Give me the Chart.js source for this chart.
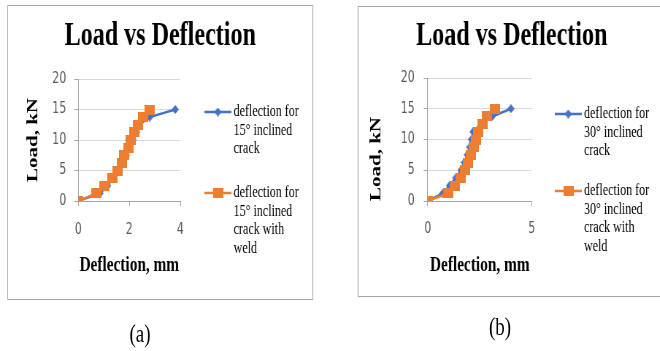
<!DOCTYPE html>
<html lang="en">
<head>
<meta charset="UTF-8" />
<title>Load vs Deflection</title>
<style>
  html, body { margin: 0; padding: 0; background: #fff; overflow: hidden; }
  /* the whole figure is horizontally condensed, like the scanned original */
  #page {
    position: absolute; left: 0; top: 0; width: 904px; height: 351px;
    transform: scaleX(0.73); transform-origin: 0 0;
  }
  .panel { position: absolute; border: 1px solid #a6a6a6; background: #fff; }
  .panel canvas { display: block; }
  .caption {
    position: absolute; font-family: "Liberation Serif", serif; font-size: 26px;
    color: #000; transform: translate(-50%, -50%);
  }
</style>
</head>
<body>
<div id="page">
  <div class="panel" style="left:9.6px; top:5px; width:417px; height:293px;">
    <canvas id="chartA" width="417" height="293"></canvas>
  </div>
  <div class="panel" style="left:490.4px; top:6px; width:420px; height:289px;">
    <canvas id="chartB" width="420" height="289"></canvas>
  </div>
  <div class="caption" style="left:191.8px; top:334px;">(a)</div>
  <div class="caption" style="left:685px; top:327px;">(b)</div>
</div>

<script src="https://cdn.jsdelivr.net/npm/chart.js"></script>
<script>
// load steps, kN (same for every series)
const loads = [0, 1.25, 2.5, 3.75, 5, 6.25, 7.5, 8.75, 10, 11.25, 12.5, 13.75, 15];

// deflection, mm
const defl15 = [0, 0.85, 1.15, 1.35, 1.55, 1.72, 1.88, 2.02, 2.15, 2.28, 2.4, 2.8, 3.8];
const defl15Weld = [0, 0.7, 1.02, 1.35, 1.54, 1.7, 1.8, 1.96, 2.06, 2.19, 2.34, 2.54, 2.8];
const defl30 = [0, 0.72, 1.05, 1.35, 1.6, 1.76, 1.9, 2.02, 2.1, 2.18, 2.55, 3.1, 4.0];
const defl30Weld = [0, 0.98, 1.3, 1.59, 1.78, 1.94, 2.07, 2.21, 2.31, 2.42, 2.63, 2.85, 3.22];

const names15 = [["deflection for", "15° inclined", "crack"], ["deflection for", "15° inclined", "crack with", "weld"]];
const names30 = [["deflection for", "30° inclined", "crack"], ["deflection for", "30° inclined", "crack with", "weld"]];

const blue = "#4472C4";
const orange = "#ED7D31";
const axisGray = "#a6a6a6";
const serif = '"Liberation Serif", "Times New Roman", serif';

function marker(shape, color, w, h) {
  const c = document.createElement("canvas");
  c.width = w;
  c.height = h;
  const g = c.getContext("2d");
  g.fillStyle = color;
  if (shape === "diamond") {
    g.beginPath();
    g.moveTo(w / 2, 0);
    g.lineTo(w, h / 2);
    g.lineTo(w / 2, h);
    g.lineTo(0, h / 2);
    g.closePath();
    g.fill();
  } else {
    g.fillRect(0, 0, w, h);
  }
  return c;
}
const diamond = marker("diamond", blue, 10, 9);
const square = marker("square", orange, 14, 10);

const toPoints = (xs, ys) => xs.map((x, i) => ({ x: x, y: ys[i] }));

// legend drawn to the right of the plot, with wrapped labels
const sideLegend = {
  id: "sideLegend",
  afterDraw(chart, args, opts) {
    const ctx = chart.ctx;
    ctx.save();
    chart.data.datasets.forEach((ds, i) => {
      const y = opts.rows[i];
      ctx.strokeStyle = ds.borderColor;
      ctx.lineWidth = ds.borderWidth;
      ctx.beginPath();
      ctx.moveTo(opts.lineStart, y);
      ctx.lineTo(opts.lineEnd, y);
      ctx.stroke();
      const img = ds.pointStyle;
      ctx.drawImage(img, (opts.lineStart + opts.lineEnd) / 2 - img.width / 2, y - img.height / 2);
      ctx.fillStyle = "#000";
      ctx.font = opts.font;
      ctx.textBaseline = "middle";
      opts.labels[i].forEach((t, k) => ctx.fillText(t, opts.textStart, y + k * opts.gap));
    });
    ctx.restore();
  }
};

function makeChart(id, c) {
  new Chart(document.getElementById(id), {
    type: "line",
    data: {
      datasets: [
        {
          label: c.names[0].join(" "),
          data: toPoints(c.xs, loads),
          borderColor: blue,
          backgroundColor: blue,
          borderWidth: 2.5,
          pointStyle: diamond,
          pointRadius: 5,
          tension: 0,
          order: 1
        },
        {
          label: c.names[1].join(" "),
          data: toPoints(c.xsWeld, loads),
          borderColor: orange,
          backgroundColor: orange,
          borderWidth: 2.5,
          pointStyle: square,
          pointRadius: 6,
          tension: 0,
          order: 0
        }
      ]
    },
    options: {
      responsive: false,
      animation: false,
      events: [],
      layout: { padding: 0 },
      plugins: {
        legend: { display: false },
        tooltip: { enabled: false },
        title: {
          display: true,
          text: "Load vs Deflection",
          color: "#000",
          font: { family: serif, size: 33, weight: "bold", lineHeight: 1.2 },
          padding: { top: c.titleTop, bottom: c.titleBottom }
        },
        sideLegend: {
          rows: c.legendRows,
          lineStart: 269,
          lineEnd: 306,
          textStart: 309,
          gap: 18.5,
          font: "16.5px " + serif,
          labels: c.names
        }
      },
      scales: {
        x: {
          type: "linear",
          min: 0,
          max: c.xMax,
          ticks: {
            stepSize: c.xStep,
            padding: c.xTickPad,
            color: "#595959",
            font: { family: "DejaVu Sans", size: 15 }
          },
          grid: { drawOnChartArea: false, tickLength: 5, color: axisGray },
          border: { color: axisGray, width: 1 },
          title: {
            display: true,
            text: "Deflection, mm",
            color: "#000",
            font: { family: serif, size: 21, weight: "bold", lineHeight: 1.2 },
            padding: { top: 0, bottom: c.xTitlePad }
          },
          afterFit: s => { s.height = c.xHeight; }
        },
        y: {
          min: 0,
          max: 20,
          ticks: {
            stepSize: 5,
            padding: c.yTickPad,
            color: "#595959",
            font: { family: "DejaVu Sans", size: 15 }
          },
          grid: { color: "#d9d9d9", tickColor: axisGray, tickLength: 5.5 },
          border: { color: axisGray, width: 1 },
          title: {
            display: true,
            text: "Load, kN",
            align: c.yTitleAlign,
            color: "#000",
            font: { family: serif, size: 21, weight: "bold", lineHeight: 1.2 },
            padding: { top: c.yTitlePad, bottom: 0 }
          },
          afterFit: s => { s.width = c.yWidth; }
        },
        // empty right-hand axis that only keeps room for the legend
        legendSpace: {
          position: "right",
          ticks: { display: false },
          grid: { display: false },
          border: { display: false },
          afterFit: s => { s.width = c.rightSpace; }
        }
      }
    },
    plugins: [sideLegend]
  });
}

makeChart("chartA", {
  xs: defl15, xsWeld: defl15Weld, names: names15,
  xMax: 4, xStep: 2,
  titleTop: 11, titleBottom: 22.4,
  yWidth: 96.2, yTickPad: 11, yTitlePad: 22, yTitleAlign: "center",
  xHeight: 98, xTickPad: 15, xTitlePad: 21,
  rightSpace: 181,
  legendRows: [106, 187]
});

makeChart("chartB", {
  xs: defl30, xsWeld: defl30Weld, names: names30,
  xMax: 5, xStep: 5,
  titleTop: 10, titleBottom: 21.4,
  yWidth: 94.9, yTickPad: 12.3, yTitlePad: 12.4, yTitleAlign: "start",
  xHeight: 95, xTickPad: 14, xTitlePad: 18,
  rightSpace: 182.6,
  legendRows: [107, 184]
});
</script>
</body>
</html>
